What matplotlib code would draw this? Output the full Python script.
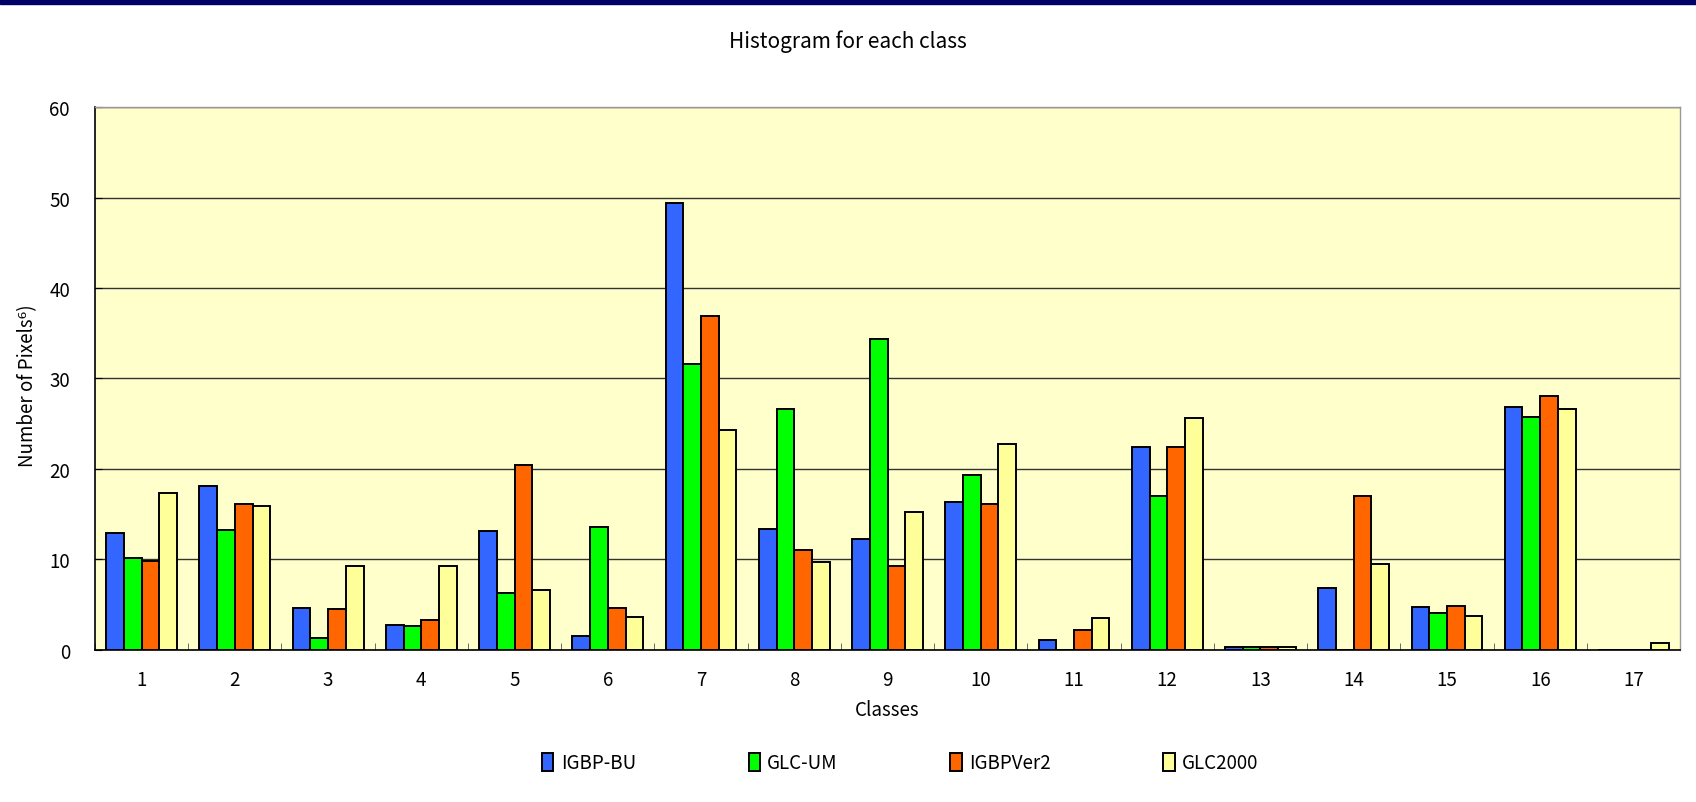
import numpy as np
import matplotlib.pyplot as plt
from matplotlib.patches import Rectangle
from matplotlib.ticker import MultipleLocator

plt.rcParams['font.family'] = ['Noto Sans CJK JP', 'DejaVu Sans']

# Data (million pixels per class)
classes = list(range(1, 18))
igbp_bu = [12.9, 18.1, 4.6, 2.8, 13.1, 1.5, 49.4, 13.4, 12.3, 16.3, 1.1, 22.4, 0.35, 6.9, 4.7, 26.8, 0]
glc_um = [10.2, 13.3, 1.3, 2.6, 6.3, 13.6, 31.6, 26.6, 34.4, 19.3, 0, 17.0, 0.35, 0, 4.1, 25.8, 0]
igbp_v2 = [9.8, 16.1, 4.5, 3.3, 20.4, 4.6, 36.9, 11.0, 9.3, 16.1, 2.2, 22.4, 0.35, 17.0, 4.9, 28.1, 0]
glc2000 = [17.4, 15.9, 9.3, 9.3, 6.6, 3.7, 24.3, 9.7, 15.3, 22.8, 3.5, 25.6, 0.35, 9.5, 3.8, 26.6, 0.8]

series = [igbp_bu, glc_um, igbp_v2, glc2000]
names = ['IGBP-BU', 'GLC-UM', 'IGBPVer2', 'GLC2000']
colors = ['#3366FF', '#00FF00', '#FF6600', '#FFFF99']

fig = plt.figure(figsize=(16.96, 8.03), dpi=100)
ax = fig.add_axes([0.056, 0.1893, 0.9346, 0.6762])
ax.set_facecolor('#FFFFCC')

# navy band at top of slide
fig.patches.append(Rectangle((0, 0.994), 1, 0.006, transform=fig.transFigure,
                             color='#000066', zorder=5))

x = np.array(classes)
w = 0.19
for i, (vals, name, c) in enumerate(zip(series, names, colors)):
    ax.bar(x + (i - 1.5) * w, vals, width=w, color=c, edgecolor='black',
           linewidth=1.4, label=name, zorder=3)

ax.set_xlim(0.5, 17.5)
ax.set_ylim(0, 60)
ax.yaxis.set_major_locator(MultipleLocator(10))
ax.grid(axis='y', color='#333333', linewidth=1.0, zorder=1)

ax.set_xticks(x)
ax.set_xticklabels([str(c) for c in classes])
ax.set_xticks(np.arange(0.5, 18, 1), minor=True)
ax.tick_params(axis='x', which='major', length=0, labelsize=13.5, pad=14)
ax.tick_params(axis='x', which='minor', direction='in', length=5, color='#555555')
ax.tick_params(axis='y', direction='in', length=5, labelsize=13.5, pad=18)

for side in ['left', 'bottom']:
    ax.spines[side].set_color('black')
    ax.spines[side].set_linewidth(1.2)
for side in ['top', 'right']:
    ax.spines[side].set_color('#999999')
    ax.spines[side].set_linewidth(1.0)

fig.text(0.5, 0.948, 'Histogram for each class', ha='center', va='center', fontsize=15)
ax.set_xlabel('Classes', fontsize=13.5, labelpad=6)
fig.text(0.016, 0.52, 'Number of Pixels⁶)', rotation=90, ha='center', va='center',
         fontsize=13.5)

ax.legend(loc='center', bbox_to_anchor=(0.508, -0.208), ncol=4, frameon=False,
          fontsize=13.5, handlelength=0.6, handleheight=1.1, columnspacing=6.0,
          handletextpad=0.4)

fig.savefig('out.png', dpi=100)
